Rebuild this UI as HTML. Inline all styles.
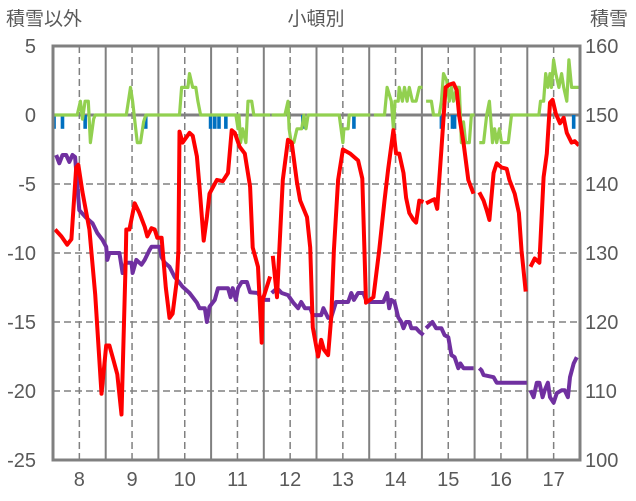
<!DOCTYPE html>
<html><head><meta charset="utf-8">
<style>
html,body{margin:0;padding:0;background:#fff;}
svg{display:block;font-family:"Liberation Sans","Noto Sans CJK JP",sans-serif;}
</style></head>
<body>
<svg id="chart" width="636" height="501" viewBox="0 0 636 501" xmlns="http://www.w3.org/2000/svg">
<text x="6" y="25" font-size="19" fill="#595959">積雪以外</text>
<text x="316" y="25" font-size="19" fill="#595959" text-anchor="middle">小頓別</text>
<text x="590" y="25" font-size="19" fill="#595959">積雪</text>
<g id="grid"></g>
<g id="series"></g>
<g id="frame"></g>
<g id="axes"></g>
</svg>
<script>
const xTickLabels=[8,9,10,11,12,13,14,15,16,17];
const leftTicks=[5,0,-5,-10,-15,-20,-25];
const rightTicks=[160,150,140,130,120,110,100];
const redT=[7.54,7.66,7.77,7.85,7.94,7.98,8.06,8.19,8.30,8.42,8.51,8.57,8.65,8.72,8.80,8.88,8.89,8.95,9.05,9.14,9.24,9.29,9.37,9.43,9.48,9.56,9.64,9.71,9.77,9.85,9.88,9.90,9.96,10.09,10.15,10.23,10.28,10.36,10.42,10.47,10.61,10.72,10.82,10.89,10.95,11.04,11.14,11.24,11.29,11.39,11.46,11.48,11.62,null,11.67,11.75,11.86,11.96,12.03,12.13,12.19,12.32,12.38,12.43,12.53,12.59,12.64,12.72,12.78,12.83,12.91,13.00,13.14,13.29,13.37,13.44,13.58,13.69,13.79,13.86,13.96,14.01,14.07,14.15,14.20,14.26,14.34,14.39,14.45,14.53,null,14.58,14.68,14.74,14.79,14.87,14.95,15.02,15.10,15.16,15.21,15.29,15.38,15.48,null,15.59,15.67,15.73,15.78,15.86,15.92,16.01,16.11,16.16,16.26,16.34,16.39,16.47,null,16.56,16.64,16.73,16.81,16.87,16.93,16.98,17.04,17.12,17.19,17.25,17.34,17.40,17.48];
const redV=[-8.3,-8.8,-9.4,-9.0,-3.8,-3.6,-5.6,-8.3,-13,-20.2,-16.7,-16.7,-17.8,-18.8,-21.7,-10.5,-8.3,-8.3,-6.4,-7.1,-8.1,-8.8,-8.2,-8.3,-8.9,-8.9,-12.5,-14.7,-14.4,-12,-9.8,-1.2,-2.0,-1.3,-1.5,-3.0,-5.2,-9.1,-7.4,-5.7,-4.7,-4.8,-4.2,-1.1,-1.3,-2.3,-2.8,-5.2,-9.6,-11,-16.5,-13.4,-11.7,null,-10.2,-13.2,-4.7,-1.8,-2.0,-4.9,-6.2,-7.4,-9.6,-15.4,-17.5,-16.3,-17,-17.4,-14.6,-9.8,-4.7,-2.5,-2.8,-3.3,-4.6,-13.6,-13.2,-9.8,-6.2,-3.9,-1.1,-2.8,-2.8,-4.2,-6.0,-7.1,-7.6,-7.8,-6.2,-6.3,null,-6.4,-6.2,-6.1,-6.8,-2.5,2.0,2.2,2.3,1.8,-0.1,-2.0,-4.7,-5.7,null,-5.6,-6.2,-6.9,-7.6,-4.2,-3.5,-3.8,-3.9,-4.7,-5.7,-7.1,-9.8,-12.8,null,-11.0,-10.4,-10.7,-4.5,-2.8,0.9,1.1,0.1,-0.6,-0.2,-1.3,-2.0,-1.9,-2.2];
const greenT=[7.52,7.96,8.02,8.06,8.11,8.17,8.21,8.27,8.30,8.89,8.97,9.01,9.07,9.10,9.16,9.22,9.26,9.90,9.94,10.06,10.09,10.15,10.21,10.25,10.30,10.97,11.01,11.03,11.06,11.10,11.16,11.20,11.27,11.31,11.62,null,11.65,11.90,11.96,11.98,12.02,12.07,12.13,12.22,12.26,12.30,12.34,12.93,13.00,13.02,13.10,13.12,13.52,null,13.59,13.79,13.84,13.92,13.96,13.99,14.05,14.07,14.13,14.17,14.22,14.26,14.32,14.39,14.45,14.51,null,14.58,14.68,14.72,14.83,14.87,14.91,14.97,15.02,15.06,15.10,15.16,15.21,15.25,15.29,15.33,15.40,15.44,15.50,null,15.59,15.67,15.73,15.78,15.84,15.88,15.92,15.97,16.01,16.14,16.20,16.53,16.72,16.75,16.81,16.85,16.89,16.93,16.96,17.00,17.04,17.10,17.15,17.19,17.25,17.29,17.34,17.48];
const greenV=[0,0,1,-0.3,1,1,-2,-0.3,0,0,2,1,-1,-2,-2,-0.5,0,0,2,2,3,2,2,1,0,0,-1,0,-2,-1,-2,1,1,0,0,null,0,0,1,-1,-2,-2,-1,-1,0,-1,0,0,-2,-1,-1,0,0,null,0,0,2,1,-1,1,1,2,1,2,1,2,1,1,2,2,null,1,1,0,0,1,3,2.5,1,2,1,2,2,-2,-0.5,-2,-2,0,0,null,-2,-2,0,1,-2,-1,-2,-1,-2,-2,0,0,0,1,1,3,2,3,2,4,3,2,3,2,1,4,2,2];
const blueT=[7.52,7.68,8.11,9.26,10.49,10.57,10.65,10.78,12.24,13.21,14.87,15.08,15.12,17.38];
const blueV=[-1,-1,-1,-1,-1,-1,-1,-1,-1,-1,-1,-1,-1,-1];
const purpleT=[7.56,7.62,7.68,7.75,7.81,7.87,7.92,8.00,8.13,8.25,8.34,8.44,8.51,8.53,8.57,8.76,8.82,8.88,8.99,9.01,9.08,9.18,9.24,9.33,9.37,9.52,9.56,9.62,9.71,9.81,9.90,9.96,10.09,10.23,10.28,10.38,10.42,10.47,10.57,10.63,10.82,10.87,10.91,10.97,11.01,11.08,11.18,11.24,11.39,11.46,11.62,null,11.65,11.75,11.84,11.96,12.06,12.15,12.21,12.28,12.38,12.43,12.59,12.63,12.72,12.78,12.87,13.10,13.16,13.21,13.29,13.39,13.44,13.50,13.77,13.84,13.88,13.92,13.98,14.05,14.11,14.15,14.20,14.26,14.30,14.39,14.45,14.53,null,14.58,14.70,14.77,14.87,14.93,15.00,15.06,15.12,15.19,15.23,15.29,15.48,null,15.59,15.63,15.67,15.86,15.92,16.49,null,16.56,16.62,16.68,16.73,16.79,16.83,16.89,16.93,17.00,17.06,17.15,17.21,17.27,17.31,17.38,17.44];
const purpleV=[144.2,143,144.2,144.2,143.2,144.2,143.9,136.2,135.1,134.3,132.9,131.9,130.9,129,130,130,127.1,128.6,128.6,127.1,129,128.3,129,130.4,130.9,130.9,129.4,128.6,128.0,126.5,125.7,125.1,124.2,122.8,122.0,122.0,120.0,122.2,123.2,124.9,124.9,123.6,124.9,123.2,124.9,125.8,125.8,124.3,124.2,123.2,123.2,null,124.2,124.9,124.2,123.9,122.8,122.0,122.9,122.0,122.0,121.0,121.0,122.0,120.6,120.7,122.9,122.9,124.2,123.2,124.2,124.2,123.2,122.9,122.9,124.2,122.0,123.2,122.9,120.7,120.0,119.1,120.0,120.0,119.1,119.1,118.6,118.1,null,119.1,120.0,119.1,119.1,118.1,117.8,115.2,114.9,113.3,114.0,113.3,113.3,null,113.3,113.0,112.3,112.0,111.2,111.2,null,110.1,109.1,111.2,111.2,109.1,110.1,111.2,109.1,108.3,109.7,110.1,110.1,109.1,112.0,114.0,114.9];

const X0=53,X1=580,Y0=46,Y1=460,T0=7.5,T1=17.5;
function xs(t){return X0+(t-T0)/(T1-T0)*(X1-X0);}
function yl(v){return Y0+(5-v)/30*(Y1-Y0);}
function yr(v){return Y0+(160-v)/60*(Y1-Y0);}
const NS='http://www.w3.org/2000/svg';
function mk(tag,attrs,parent){const e=document.createElementNS(NS,tag);for(const k in attrs)e.setAttribute(k,attrs[k]);parent.appendChild(e);return e;}
const grid=document.getElementById('grid'),series=document.getElementById('series'),frame=document.getElementById('frame'),axes=document.getElementById('axes');

leftTicks.forEach(v=>{
  if(v===5||v===-25)return;
  const l=mk('line',{x1:X0,x2:X1,y1:yl(v),y2:yl(v),stroke:'#808080','stroke-width':v===0?3:1.5,'stroke-dasharray':v===0?'none':'7,4'},grid);
  
  
});
xTickLabels.forEach(d=>{
  const c=mk('line',{x1:xs(d),x2:xs(d),y1:Y0,y2:Y1,stroke:'#808080','stroke-width':1.5,'stroke-dasharray':'7,4'},grid);
  
  
  if(d<17){
    const b=mk('line',{x1:xs(d+0.5),x2:xs(d+0.5),y1:Y0,y2:Y1,stroke:'#808080','stroke-width':2},grid);
    
    
  }
  const t=mk('text',{x:xs(d),y:486,'font-size':20,fill:'#595959','text-anchor':'middle'},axes);
  t.textContent=d;
  
  
});
leftTicks.forEach(v=>{
  const t=mk('text',{x:36,y:yl(v)+7,'font-size':20,fill:'#595959','text-anchor':'end'},axes);
  t.textContent=v;
  
  
});
rightTicks.forEach(v=>{
  const t=mk('text',{x:585,y:yr(v)+7,'font-size':20,fill:'#595959'},axes);
  t.textContent=v;
  
  
});
blueT.forEach((t,i)=>{
  const y0=yl(0),y1=yl(blueV[i]);
  const r=mk('rect',{x:xs(t)-1.8,y:Math.min(y0,y1),width:3.6,height:Math.abs(y1-y0),fill:'#0070C0'},series);
  
  
});
function path(T,V,fy){let d='',pen=false;for(let i=0;i<T.length;i++){if(T[i]===null||V[i]===null){pen=false;continue;}d+=(pen?'L':'M')+xs(T[i]).toFixed(1)+','+fy(V[i]).toFixed(1);pen=true;}return d;}
const g=mk('path',{d:path(greenT,greenV,yl),fill:'none',stroke:'#92D050','stroke-width':3.2,'stroke-linejoin':'round'},series);


const p=mk('path',{d:path(purpleT,purpleV,yr),fill:'none',stroke:'#7030A0','stroke-width':4,'stroke-linejoin':'round'},series);


const r=mk('path',{d:path(redT,redV,yl),fill:'none',stroke:'#FF0000','stroke-width':4,'stroke-linejoin':'round'},series);


const f=mk('rect',{x:X0,y:Y0,width:X1-X0,height:Y1-Y0,fill:'none',stroke:'#808080','stroke-width':3},frame);


</script>
</body></html>
